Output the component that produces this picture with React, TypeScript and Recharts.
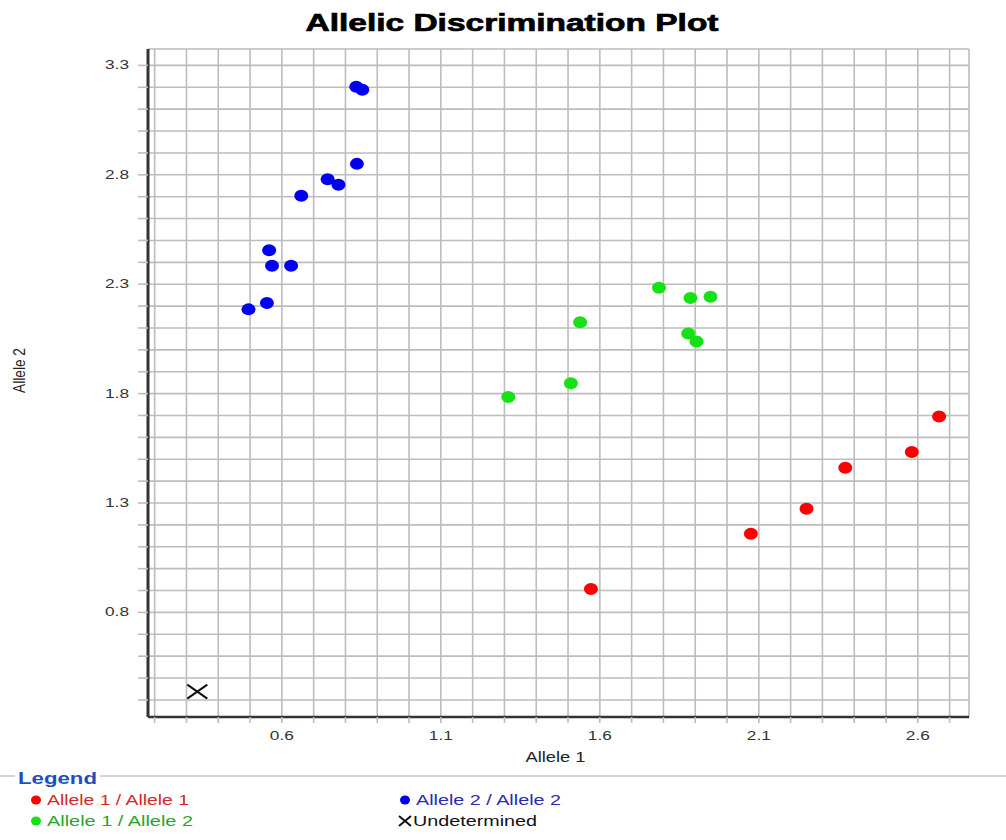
import { ScatterChart, Scatter, XAxis, YAxis, CartesianGrid } from 'recharts'

// genotype clusters (Allele 1 = x, Allele 2 = y)
const allele1Allele1 = [
  { x: 2.667, y: 1.695 },
  { x: 2.581, y: 1.533 },
  { x: 2.372, y: 1.461 },
  { x: 2.250, y: 1.274 },
  { x: 2.075, y: 1.160 },
  { x: 1.572, y: 0.907 },
]

const allele1Allele2 = [
  { x: 1.786, y: 2.284 },
  { x: 1.885, y: 2.237 },
  { x: 1.948, y: 2.243 },
  { x: 1.538, y: 2.126 },
  { x: 1.878, y: 2.075 },
  { x: 1.904, y: 2.038 },
  { x: 1.509, y: 1.847 },
  { x: 1.312, y: 1.784 },
]

const allele2Allele2 = [
  { x: 0.834, y: 3.203 },
  { x: 0.853, y: 3.189 },
  { x: 0.836, y: 2.850 },
  { x: 0.744, y: 2.780 },
  { x: 0.778, y: 2.755 },
  { x: 0.661, y: 2.704 },
  { x: 0.560, y: 2.455 },
  { x: 0.569, y: 2.384 },
  { x: 0.629, y: 2.384 },
  { x: 0.553, y: 2.214 },
  { x: 0.495, y: 2.185 },
]

const undetermined = [{ x: 0.334, y: 0.438 }]

const xTicks = [0.2, 0.3, 0.4, 0.5, 0.6, 0.7, 0.8, 0.9, 1.0, 1.1, 1.2, 1.3, 1.4, 1.5, 1.6, 1.7, 1.8, 1.9, 2.0, 2.1, 2.2, 2.3, 2.4, 2.5, 2.6, 2.7]
const yTicks = [0.4, 0.5, 0.6, 0.7, 0.8, 0.9, 1.0, 1.1, 1.2, 1.3, 1.4, 1.5, 1.6, 1.7, 1.8, 1.9, 2.0, 2.1, 2.2, 2.3, 2.4, 2.5, 2.6, 2.7, 2.8, 2.9, 3.0, 3.1, 3.2, 3.3]
const xLabels = [0.6, 1.1, 1.6, 2.1, 2.6]
const yLabels = [0.8, 1.3, 1.8, 2.3, 2.8, 3.3]
const xDomain = [0.179, 2.761]
const yDomain = [0.322, 3.375]

const legendItems = [
  { name: 'Allele 1 / Allele 1', color: '#ff0000', text: '#d8262a', mark: 'dot', col: 0, row: 0, len: 142 },
  { name: 'Allele 1 / Allele 2', color: '#16e016', text: '#26a626', mark: 'dot', col: 0, row: 1, len: 146 },
  { name: 'Allele 2 / Allele 2', color: '#0000f0', text: '#2a2ab0', mark: 'dot', col: 1, row: 0, len: 145 },
  { name: 'Undetermined', color: '#111', text: '#111', mark: 'x', col: 1, row: 1, len: 124 },
]

const isLabel = (v: number, list: number[]) => list.some((l) => Math.abs(l - v) < 1e-6)

function Dot(color: string) {
  return (props: any) => <ellipse cx={props.cx} cy={props.cy} rx={7} ry={6} fill={color} />
}

function Cross(props: any) {
  const { cx, cy } = props
  return (
    <g stroke="#111" strokeWidth={2}>
      <line x1={cx - 10} y1={cy - 7} x2={cx + 10} y2={cy + 7} />
      <line x1={cx - 10} y1={cy + 7} x2={cx + 10} y2={cy - 7} />
    </g>
  )
}

function XTick(props: any) {
  const { x, y, payload } = props
  if (!isLabel(payload.value, xLabels)) return <g />
  return (
    <text x={x} y={y} dy={9} textAnchor="middle" fontSize={12} fill="#333" textLength={24} lengthAdjust="spacingAndGlyphs">
      {payload.value.toFixed(1)}
    </text>
  )
}

function YTick(props: any) {
  const { x, y, payload } = props
  if (!isLabel(payload.value, yLabels)) return <g />
  return (
    <text x={x} y={y} dy={4} textAnchor="end" fontSize={12} fill="#333" textLength={24} lengthAdjust="spacingAndGlyphs">
      {payload.value.toFixed(1)}
    </text>
  )
}

const font = 'Arial, "Liberation Sans", Helvetica, sans-serif'

export default function App() {
  return (
    <div style={{ position: 'absolute', left: 0, top: 0, width: 1006, height: 840, background: '#fff', fontFamily: font }}>
      <svg width={1006} height={40} style={{ position: 'absolute', left: 0, top: 0 }}>
        <text x={512} y={31} textAnchor="middle" fontSize={24} fontWeight={700} fill="#000" stroke="#000" strokeWidth={0.7} fontFamily={font} textLength={413} lengthAdjust="spacingAndGlyphs">
          Allelic Discrimination Plot
        </text>
      </svg>

      <div style={{ position: 'absolute', left: 0, top: 0 }}>
        <ScatterChart width={1006} height={770} margin={{ top: 49, right: 37, bottom: 0, left: 0 }} style={{ fontFamily: font }}>
          <CartesianGrid stroke="#bdbdbd" strokeWidth={1.6} />
          <XAxis
            type="number"
            dataKey="x"
            domain={xDomain}
            allowDataOverflow
            ticks={xTicks}
            interval={0}
            height={53}
            tickSize={6}
            tickMargin={8}
            tick={<XTick />}
            tickLine={{ stroke: '#bdbdbd', strokeWidth: 1.6 }}
            axisLine={{ stroke: '#333', strokeWidth: 2.5 }}
            label={{
              content: (p: any) => (
                <text x={p.viewBox.x + p.viewBox.width / 2 - 3} y={p.viewBox.y + 45} textAnchor="middle" fontSize={14} fill="#222" textLength={60} lengthAdjust="spacingAndGlyphs">
                  Allele 1
                </text>
              ),
            }}
          />
          <YAxis
            type="number"
            dataKey="y"
            domain={yDomain}
            allowDataOverflow
            ticks={yTicks}
            interval={0}
            width={148}
            tickSize={10}
            tickMargin={9}
            tick={<YTick />}
            tickLine={{ stroke: '#bdbdbd', strokeWidth: 1.6 }}
            axisLine={{ stroke: '#333', strokeWidth: 3 }}
            label={{
              content: (p: any) => {
                const cy = p.viewBox.y + p.viewBox.height / 2 - 12.5
                return (
                  <text x={25} y={cy} transform={`rotate(-90 25 ${cy})`} textAnchor="middle" fontSize={16} fill="#222" textLength={45} lengthAdjust="spacingAndGlyphs">
                    Allele 2
                  </text>
                )
              },
            }}
          />
          <XAxis xAxisId="top" orientation="top" type="number" domain={xDomain} allowDataOverflow height={0} tick={false} tickLine={false} axisLine={{ stroke: '#444', strokeWidth: 2 }} />
          <YAxis yAxisId="right" orientation="right" type="number" domain={yDomain} allowDataOverflow width={0} tick={false} tickLine={false} axisLine={{ stroke: '#111', strokeWidth: 2 }} />
          <Scatter name="Allele 2 / Allele 2" data={allele2Allele2} shape={Dot('#0000f0')} isAnimationActive={false} />
          <Scatter name="Allele 1 / Allele 2" data={allele1Allele2} shape={Dot('#16e016')} isAnimationActive={false} />
          <Scatter name="Allele 1 / Allele 1" data={allele1Allele1} shape={Dot('#ff0000')} isAnimationActive={false} />
          <Scatter name="Undetermined" data={undetermined} shape={Cross} isAnimationActive={false} />
        </ScatterChart>
      </div>

      <svg width={1006} height={70} style={{ position: 'absolute', left: 0, top: 770 }}>
        <line x1={0} y1={6} x2={15} y2={6} stroke="#d4d4d4" strokeWidth={2} />
        <line x1={100} y1={6} x2={1006} y2={6} stroke="#d4d4d4" strokeWidth={2} />
        <text x={18} y={14} fontSize={16} fontWeight={700} fill="#1f4fbf" fontFamily={font} textLength={79} lengthAdjust="spacingAndGlyphs">
          Legend
        </text>
        {legendItems.map((it) => {
          const mx = it.col === 0 ? 36 : 405
          const my = it.row === 0 ? 30 : 51
          return (
            <g key={it.name}>
              {it.mark === 'dot' ? (
                <ellipse cx={mx} cy={my} rx={5} ry={4.5} fill={it.color} />
              ) : (
                <g stroke={it.color} strokeWidth={2}>
                  <line x1={mx - 6} y1={my - 5} x2={mx + 6} y2={my + 5} />
                  <line x1={mx - 6} y1={my + 5} x2={mx + 6} y2={my - 5} />
                </g>
              )}
              <text x={it.col === 0 ? 47 : it.mark === 'x' ? 413 : 416} y={my + 5} fontSize={14} fill={it.text} fontFamily={font} textLength={it.len} lengthAdjust="spacingAndGlyphs">
                {it.name}
              </text>
            </g>
          )
        })}
      </svg>
    </div>
  )
}
